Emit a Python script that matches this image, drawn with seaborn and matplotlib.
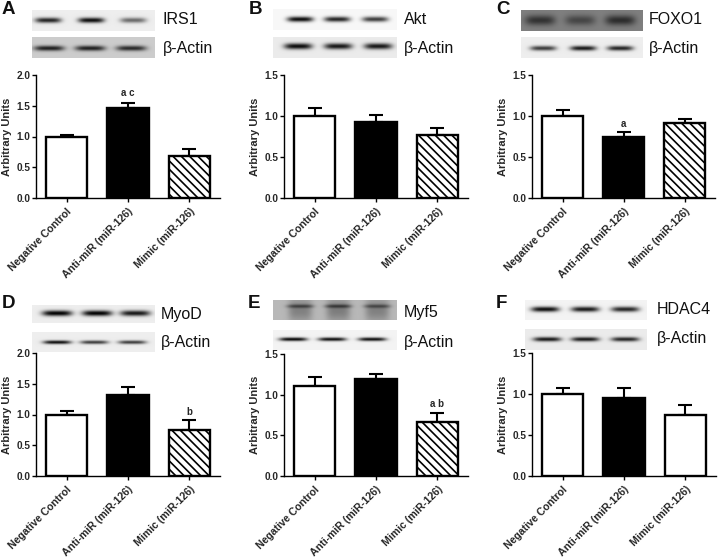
import numpy as np
import pandas as pd
import matplotlib
matplotlib.use("Agg")
import matplotlib.pyplot as plt
import seaborn as sns

sns.set_style("ticks")
plt.rcParams["font.family"] = ["Liberation Sans", "DejaVu Sans"]
plt.rcParams["hatch.linewidth"] = 1.2

W, H = 720, 557

groups = ["Negative Control", "Anti-miR (miR-126)", "Mimic (miR-126)"]

# bar heights and top of the error bars, one list per panel
a_vals = [1.00, 1.47, 0.68]
a_tops = [1.02, 1.54, 0.80]
b_vals = [1.00, 0.93, 0.77]
b_tops = [1.10, 1.01, 0.85]
c_vals = [1.00, 0.75, 0.91]
c_tops = [1.07, 0.80, 0.96]
d_vals = [1.00, 1.32, 0.75]
d_tops = [1.05, 1.44, 0.91]
e_vals = [1.11, 1.19, 0.67]
e_tops = [1.22, 1.26, 0.77]
f_vals = [1.00, 0.95, 0.74]
f_tops = [1.07, 1.07, 0.87]

y_ticks_2 = [0.0, 0.5, 1.0, 1.5, 2.0]
y_ticks_15 = [0.0, 0.5, 1.0, 1.5]

# blot band darkness (0 = background, 1 = black)
irs1 = [0.85, 0.95, 0.55]
a_actin = [0.85, 0.85, 0.80]
akt = [0.95, 0.85, 0.75]
b_actin = [0.95, 0.90, 0.90]
foxo1 = [0.60, 0.45, 0.65]
c_actin = [0.75, 0.90, 0.85]
myod = [1.00, 1.00, 0.90]
d_actin = [0.95, 0.75, 0.75]
myf5_smear = [0.30, 0.32, 0.30]
myf5 = [0.55, 0.60, 0.50]
e_actin = [0.98, 0.95, 0.95]
hdac4 = [0.95, 0.90, 0.85]
f_actin = [0.90, 0.90, 0.85]


def px_axes(x0, y0, x1, y1):
    return fig.add_axes([x0 / W, 1 - y1 / H, (x1 - x0) / W, (y1 - y0) / H])


def blot(box, bg, layers):
    # layers: (darkness, band centres, half width, y centre, half thickness)
    x0, y0, x1, y1 = box
    xx, yy = np.meshgrid(np.arange(x0, x1, 0.5), np.arange(y0, y1, 0.5))
    img = np.full(xx.shape, float(bg))
    for dark, centres, hw, yc, th in layers:
        for d, c in zip(dark, centres):
            prof_x = np.exp(-(np.abs(xx - c) / hw) ** 4)
            prof_y = np.exp(-(np.abs(yy - yc) / th) ** 2)
            img = img * (1 - d * prof_x * prof_y)
    ax = px_axes(*box)
    ax.imshow(img, cmap="gray", vmin=0, vmax=1, aspect="auto", interpolation="bilinear")
    ax.axis("off")


def bars(box, vals, tops, ticks, white_third=False):
    df = pd.DataFrame({"group": groups, "value": vals})
    ax = px_axes(*box)
    sns.barplot(data=df, x="group", y="value", hue="group", order=groups, hue_order=groups,
                palette=["white", "black", "white"], width=0.67, edgecolor="black",
                linewidth=1.7, legend=False, ax=ax, zorder=3)
    if not white_third:
        ax.patches[2].set_hatch("\\\\\\\\")
    sems = [t - v for t, v in zip(tops, vals)]
    ax.errorbar(range(3), vals, yerr=[[0, 0, 0], sems], fmt="none", ecolor="black",
                elinewidth=1.5, capsize=4.7, capthick=1.5, zorder=2)
    ax.set_xlim(-0.5, 2.5)
    ax.set_ylim(0, ticks[-1])
    ax.set_yticks(ticks)
    ax.set_yticklabels([f"{t:.1f}" for t in ticks], fontsize=7.2, fontweight="bold")
    ax.set_xticks(range(3))
    ax.set_xticklabels(groups, rotation=45, ha="right", rotation_mode="anchor",
                       fontsize=7.6, fontweight="bold")
    ax.set_xlabel("")
    ax.set_ylabel("Arbitrary Units", fontsize=8, fontweight="bold")
    ax.yaxis.set_label_coords(-24 / (box[2] - box[0]), 0.5)
    ax.tick_params(axis="y", width=1, length=3, pad=1, color="black")
    ax.tick_params(axis="x", width=1, length=3, pad=3, color="black")
    sns.despine(ax=ax)
    for s in ["left", "bottom"]:
        ax.spines[s].set_linewidth(1)
        ax.spines[s].set_color("black")
    ax.patch.set_alpha(0)
    return ax


def label(x, y, s, size=11.5, weight="normal"):
    fig.text(x / W, 1 - y / H, s, fontsize=size, fontweight=weight, va="center", ha="left", color="#111111")


fig = plt.figure(figsize=(7.2, 5.57), dpi=100)

# blots
blot((32, 10, 155, 31), 0.93, [(irs1, [48, 91, 133], 13, 20, 2.6)])
blot((32, 37, 155, 58), 0.80, [(a_actin, [49, 90, 131], 15, 48, 2.6)])
blot((273, 9, 397, 30), 0.97, [(akt, [300, 337, 375], 13, 19, 2.6)])
blot((273, 37, 397, 58), 0.92, [(b_actin, [298, 338, 378], 14, 46, 3)])
blot((521, 10, 643, 31), 0.50, [(foxo1, [540, 580, 620], 15, 20, 5)])
blot((521, 37, 643, 58), 0.93, [(c_actin, [543, 583, 620], 13, 48, 2.4)])
blot((32, 305, 155, 323), 0.93, [(myod, [57, 97, 135], 15, 313, 2.8)])
blot((32, 332, 155, 352), 0.93, [(d_actin, [57, 94, 132], 14, 342, 1.8)])
blot((273, 300, 397, 320), 0.72, [(myf5_smear, [300, 338, 377], 12, 310, 12),
                                  (myf5, [300, 338, 377], 13, 306, 1.8)])
blot((273, 330, 397, 350), 0.95, [(e_actin, [293, 332, 372], 14, 339, 1.8)])
blot((525, 300, 647, 320), 0.95, [(hdac4, [545, 585, 625], 14, 309, 2.6)])
blot((525, 329, 647, 350), 0.92, [(f_actin, [547, 585, 625], 14, 339, 2.2)])

# charts
ax_a = bars((36, 75, 220, 198), a_vals, a_tops, y_ticks_2)
ax_b = bars((284, 75, 468, 198), b_vals, b_tops, y_ticks_15)
ax_c = bars((532, 75, 715, 198), c_vals, c_tops, y_ticks_15)
ax_d = bars((36, 353, 220, 476), d_vals, d_tops, y_ticks_2)
ax_e = bars((284, 354, 468, 476), e_vals, e_tops, y_ticks_15)
ax_f = bars((532, 353, 716, 476), f_vals, f_tops, y_ticks_15, white_third=True)

# significance letters
ax_a.text(1, 1.71, "a c", ha="center", va="center", fontsize=7, fontweight="bold")
ax_c.text(1, 0.90, "a", ha="center", va="center", fontsize=7, fontweight="bold")
ax_d.text(2, 1.04, "b", ha="center", va="center", fontsize=7, fontweight="bold")
ax_e.text(2, 0.885, "a b", ha="center", va="center", fontsize=7, fontweight="bold")

# blot names
label(163, 20, "IRS1")
label(163, 48, "β-Actin")
label(404, 20, "Akt")
label(404, 48, "β-Actin")
label(649, 20, "FOXO1")
label(649, 48, "β-Actin")
label(161, 315, "MyoD")
label(161, 343, "β-Actin")
label(404, 312, "Myf5")
label(404, 342, "β-Actin")
label(657, 309, "HDAC4")
label(657, 338, "β-Actin")

# panel letters
for x, y, s in [(2, 10, "A"), (249, 9, "B"), (496, 9, "C"),
                (2, 303, "D"), (248, 303, "E"), (496, 303, "F")]:
    label(x, y, s, size=13.5, weight="bold")

plt.savefig("out.png", dpi=100)
